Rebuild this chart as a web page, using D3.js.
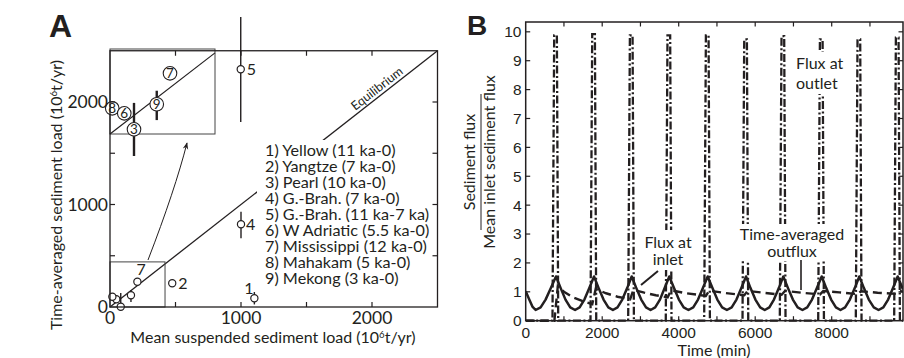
<!DOCTYPE html>
<html><head><meta charset="utf-8">
<script src="https://cdn.jsdelivr.net/npm/d3@7"></script>
<style>body{margin:0;background:#fff}svg{display:block}</style>
</head><body>
<svg id="c" width="904" height="358"></svg>
<script>
// ---------------- Panel A data ----------------
const riverIds   = ["1","2","3","4","5","6","7","8","9"];
const legendText = ["1) Yellow (11 ka-0)","2) Yangtze (7 ka-0)","3) Pearl (10 ka-0)","4) G.-Brah. (7 ka-0)",
                    "5) G.-Brah. (11 ka-7 ka)","6) W Adriatic (5.5 ka-0)","7) Mississippi (12 ka-0)",
                    "8) Mahakam (5 ka-0)","9) Mekong (3 ka-0)"];
const meanLoad = [1102, 475, 82, 1000, 998, 48, 209, 18, 160];
const avgLoad  = [85, 231, 3, 807, 2319, 75, 247, 100, 115];
const errLow   = [25, null, 3, 670, 1805, null, null, null, 50];
const errHigh  = [146, null, 137, 930, 2829, null, null, null, 166];
const labelledIds = ["1","2","4","5","7"];
// inset (zoom of the small box near the origin)
const insetIds   = ["7","9","8","6","3"];
const insetMean  = [240, 187, 9, 57, 96];
const insetAvg   = [314, 154, 133, 107, 24];
const insetErrLo = [null, 72, null, null, -114];
const insetErrHi = [null, 224, null, null, 161];
const insetExtentX = [0, 420];
const insetExtentY = [0, 440];
const axisDomainA = [0, 2500];
const tickValuesA = [0, 500, 1000, 1500, 2000, 2500];
const tickLabelsA = [0, 1000, 2000];

// ---------------- Panel B data ----------------
const inletFlux = [[0,1.02],[90,0.74],[175,0.49],[260,0.37],[390,0.46],[520,0.73],[655,1.12],[792,1.53],
 [917,1.12],[1040,0.73],[1165,0.46],[1290,0.37],[1410,0.46],[1535,0.73],[1660,1.12],[1786,1.53],
 [1910,1.12],[2035,0.73],[2160,0.46],[2280,0.37],[2400,0.46],[2525,0.73],[2650,1.12],[2771,1.53],
 [2895,1.12],[3020,0.73],[3145,0.46],[3265,0.37],[3385,0.46],[3510,0.73],[3630,1.12],[3754,1.53],
 [3880,1.12],[4005,0.73],[4130,0.46],[4255,0.37],[4380,0.46],[4505,0.73],[4630,1.12],[4758,1.53],
 [4885,1.12],[5010,0.73],[5135,0.46],[5260,0.37],[5385,0.46],[5510,0.73],[5635,1.12],[5760,1.53],
 [5880,1.12],[6005,0.73],[6130,0.46],[6250,0.37],[6370,0.46],[6490,0.73],[6615,1.12],[6735,1.53],
 [6860,1.12],[6985,0.73],[7110,0.46],[7235,0.37],[7360,0.46],[7485,0.73],[7610,1.12],[7739,1.53],
 [7860,1.12],[7985,0.73],[8110,0.46],[8230,0.37],[8350,0.46],[8475,0.73],[8600,1.12],[8722,1.53],
 [8845,1.12],[8970,0.73],[9100,0.46],[9225,0.37],[9350,0.46],[9475,0.73],[9600,1.12],[9725,1.53],[9864,1.08]];
const outletFlux = [[0,0],[700,0],[745,9.88],[815,9.88],[850,0],
 [1694,0],[1739,9.92],[1809,9.92],[1844,0],
 [2679,0],[2724,9.88],[2794,9.88],[2829,0],
 [3662,0],[3707,9.88],[3777,9.88],[3812,0],
 [4666,0],[4711,9.88],[4781,9.88],[4816,0],
 [5668,0],[5713,9.74],[5783,9.74],[5818,0],
 [6643,0],[6688,9.85],[6758,9.85],[6793,0],
 [7647,0],[7692,9.74],[7762,9.74],[7797,0],
 [8630,0],[8675,9.74],[8745,9.74],[8780,0],
 [9633,0],[9678,9.8],[9748,9.8],[9783,0],[9864,0]];
const avgOutflux = [[0,0],[750,0],[840,1.2],[1000,1.0],[1250,0.8],[1500,0.67],[1740,0.57],
 [1830,1.1],[2100,0.95],[2400,0.83],[2730,0.74],
 [2815,1.07],[3100,0.97],[3400,0.88],[3710,0.81],
 [3800,1.05],[4200,0.95],[4710,0.86],
 [4800,1.04],[5200,0.96],[5715,0.88],
 [5800,1.03],[6200,0.97],[6690,0.9],
 [6780,1.03],[7200,0.97],[7695,0.91],
 [7780,1.03],[8200,0.98],[8680,0.92],
 [8765,1.02],[9200,0.97],[9680,0.93],
 [9770,1.02],[9864,1.01]];
const xDomainB = [0, 9864];
const yDomainB = [0, 10.34];
const xTickLabelsB = [0, 2000, 4000, 6000, 8000];
const xTicksB = [1000,2000,3000,4000,5000,6000,7000,8000,9000];
const yTicksB = [0,1,2,3,4,5,6,7,8,9,10];

// ---------------- drawing ----------------
const svg = d3.select("#c");
const INK = "#231f20";
const fontA = "Lato, 'Open Sans', sans-serif";
const fontNum = "'Liberation Sans', Arial, sans-serif";

// ===== Panel A =====
const xA = d3.scaleLinear().domain(axisDomainA).range([110, 437.5]);
const yA = d3.scaleLinear().domain(axisDomainA).range([307, 50.75]);
const gA = svg.append("g");

gA.append("text").attr("x", 49).attr("y", 37).text("A")
  .attr("font-family", "'Liberation Sans', Arial, sans-serif").attr("font-weight", "bold")
  .attr("font-size", 32).attr("fill", INK);

// equilibrium line
gA.append("line").attr("x1", xA(0)).attr("y1", yA(0)).attr("x2", xA(2500)).attr("y2", yA(2500))
  .attr("stroke", INK).attr("stroke-width", 1.3);
const eqAng = Math.atan2(yA(0) - yA(2500), xA(2500) - xA(0)) * 180 / Math.PI;
gA.append("text").attr("transform", `translate(${xA(2020)+5},${yA(2020)-8}) rotate(${-eqAng})`)
  .attr("text-anchor", "middle").attr("font-family", fontA).attr("font-size", 12.5).attr("fill", INK)
  .text("Equilibrium");

// legend with white background
gA.append("rect").attr("x", 257).attr("y", 140).attr("width", 174).attr("height", 148).attr("fill", "#fff");
gA.append("g").selectAll("text").data(legendText).join("text")
  .attr("x", 265).attr("y", (d, i) => 150 + i * 16.1).attr("dy", "0.35em")
  .attr("font-family", fontA).attr("font-size", 16.2).attr("fill", INK).text(d => d);

// small box near origin
gA.append("rect").attr("x", xA(insetExtentX[0])).attr("y", yA(insetExtentY[1]))
  .attr("width", xA(insetExtentX[1]) - xA(insetExtentX[0])).attr("height", yA(insetExtentY[0]) - yA(insetExtentY[1]))
  .attr("fill", "none").attr("stroke", "#444").attr("stroke-width", 1);

// error bars main
const rows = riverIds.map((id, i) => ({id, x: meanLoad[i], y: avgLoad[i], lo: errLow[i], hi: errHigh[i]}));
gA.append("g").selectAll("line").data(rows.filter(d => d.lo !== null)).join("line")
  .attr("x1", d => xA(d.x)).attr("x2", d => xA(d.x)).attr("y1", d => yA(d.lo)).attr("y2", d => yA(d.hi))
  .attr("stroke", INK).attr("stroke-width", 1.4);
gA.append("g").selectAll("circle").data(rows).join("circle")
  .attr("cx", d => xA(d.x)).attr("cy", d => yA(d.y)).attr("r", 3.6)
  .attr("fill", "#fff").attr("stroke", INK).attr("stroke-width", 1.2);
const labOff = {"1": [-10, -10], "2": [6, 0], "4": [5, 0], "5": [6, 0], "7": [-1, -12]};
gA.append("g").selectAll("text").data(rows.filter(d => labelledIds.includes(d.id))).join("text")
  .attr("x", d => xA(d.x) + labOff[d.id][0]).attr("y", d => yA(d.y) + labOff[d.id][1]).attr("dy", "0.35em")
  .attr("font-family", fontA).attr("font-size", 16).attr("fill", INK).text(d => d.id);

// arrow from small box to inset
svg.append("defs").append("marker").attr("id", "ah").attr("viewBox", "0 0 10 10").attr("refX", 9).attr("refY", 5)
  .attr("markerWidth", 7).attr("markerHeight", 7).attr("orient", "auto")
  .append("path").attr("d", "M0,1 L10,5 L0,9 L3,5 Z").attr("fill", INK);
gA.append("path").attr("d", "M148,260 Q175,190 187,143").attr("fill", "none")
  .attr("stroke", INK).attr("stroke-width", 1).attr("marker-end", "url(#ah)");

// inset
const xI = d3.scaleLinear().domain(insetExtentX).range([110, 215]);
const yI = d3.scaleLinear().domain(insetExtentY).range([134, 49]);
const gI = gA.append("g");
gI.append("rect").attr("x", 110).attr("y", 49).attr("width", 105).attr("height", 85)
  .attr("fill", "#fff").attr("stroke", "#444").attr("stroke-width", 1);
gI.append("line").attr("x1", xI(0)).attr("y1", yI(0)).attr("x2", xI(420)).attr("y2", yI(420))
  .attr("stroke", INK).attr("stroke-width", 1.2);
const irows = insetIds.map((id, i) => ({id, x: insetMean[i], y: insetAvg[i], lo: insetErrLo[i], hi: insetErrHi[i]}));
gI.append("g").selectAll("line").data(irows.filter(d => d.lo !== null)).join("line")
  .attr("x1", d => xI(d.x)).attr("x2", d => xI(d.x)).attr("y1", d => yI(d.lo)).attr("y2", d => yI(d.hi))
  .attr("stroke", INK).attr("stroke-width", 2.4);
gI.append("g").selectAll("circle").data(irows).join("circle")
  .attr("cx", d => xI(d.x)).attr("cy", d => yI(d.y)).attr("r", 6.8)
  .attr("fill", "#fff").attr("stroke", INK).attr("stroke-width", 1.1);
gI.append("g").selectAll("text").data(irows).join("text")
  .attr("x", d => xI(d.x)).attr("y", d => yI(d.y)).attr("dy", "0.36em").attr("text-anchor", "middle")
  .attr("font-family", fontA).attr("font-size", 13.5).attr("fill", INK).text(d => d.id);

// frame + ticks
gA.append("rect").attr("x", 110).attr("y", yA(2500)).attr("width", xA(2500) - 110).attr("height", 307 - yA(2500))
  .attr("fill", "none").attr("stroke", INK).attr("stroke-width", 1.3);
const tk = 5;
tickValuesA.slice(1, -1).forEach(v => {
  gA.append("line").attr("x1", xA(v)).attr("x2", xA(v)).attr("y1", 307).attr("y2", 307 - tk).attr("stroke", INK).attr("stroke-width", 1.2);
  gA.append("line").attr("x1", xA(v)).attr("x2", xA(v)).attr("y1", yA(2500)).attr("y2", yA(2500) + tk).attr("stroke", INK).attr("stroke-width", 1.2);
  gA.append("line").attr("y1", yA(v)).attr("y2", yA(v)).attr("x1", 110).attr("x2", 110 + tk).attr("stroke", INK).attr("stroke-width", 1.2);
  gA.append("line").attr("y1", yA(v)).attr("y2", yA(v)).attr("x1", xA(2500)).attr("x2", xA(2500) - tk).attr("stroke", INK).attr("stroke-width", 1.2);
});
gA.append("g").selectAll("text").data(tickLabelsA).join("text")
  .attr("x", d => xA(d)).attr("y", 318).attr("dy", "0.35em").attr("text-anchor", "middle")
  .attr("font-family", fontA).attr("font-size", 17.5).attr("fill", INK).text(d => d);
gA.append("g").selectAll("text").data(tickLabelsA).join("text")
  .attr("x", 108).attr("y", d => yA(d)).attr("dy", "0.35em").attr("text-anchor", "end")
  .attr("font-family", fontA).attr("font-size", 17.5).attr("fill", INK).text(d => d);

// axis titles
function unitsText(sel, main) {
  sel.append("tspan").text(main + " (10");
  sel.append("tspan").attr("font-size", "0.6em").attr("dy", "-0.55em").text("6");
  sel.append("tspan").attr("dy", "0.33em").text("t/yr)");
}
const xt = gA.append("text").attr("x", 273).attr("y", 343).attr("text-anchor", "middle")
  .attr("font-family", fontA).attr("font-size", 16).attr("fill", INK);
unitsText(xt, "Mean suspended sediment load");
const yt = gA.append("text").attr("transform", "translate(62,195) rotate(-90)").attr("text-anchor", "middle")
  .attr("font-family", fontA).attr("font-size", 16).attr("fill", INK);
unitsText(yt, "Time-averaged sediment load");

// ===== Panel B =====
const xB = d3.scaleLinear().domain(xDomainB).range([525.7, 903]);
const yB = d3.scaleLinear().domain(yDomainB).range([320.7, 22]);
const gB = svg.append("g");
gB.append("text").attr("x", 467).attr("y", 35).text("B")
  .attr("font-family", "'Liberation Sans', Arial, sans-serif").attr("font-weight", "bold")
  .attr("font-size", 28).attr("fill", INK);

svg.select("defs").append("clipPath").attr("id", "clipB").append("rect")
  .attr("x", 525.7).attr("y", 22).attr("width", 903 - 525.7).attr("height", 320.7 - 22 + 2);
const plot = gB.append("g").attr("clip-path", "url(#clipB)");
const lineB = d3.line().x(d => xB(d[0])).y(d => yB(d[1]));
plot.append("path").attr("d", lineB(outletFlux)).attr("fill", "none").attr("stroke", INK)
  .attr("stroke-width", 2.3).attr("stroke-dasharray", "8,2.5,2,2.5");
plot.append("path").attr("d", lineB(avgOutflux)).attr("fill", "none").attr("stroke", INK)
  .attr("stroke-width", 2.4).attr("stroke-dasharray", "9,5");
plot.append("path").attr("d", lineB(inletFlux)).attr("fill", "none").attr("stroke", INK)
  .attr("stroke-width", 2.5).attr("stroke-linejoin", "round");

// annotation boxes
const fontB = fontA;
function note(lines, cx, ys, anchor, box) {
  gB.append("rect").attr("x", box[0]).attr("y", box[1]).attr("width", box[2]).attr("height", box[3]).attr("fill", "#fff");
  lines.forEach((t, i) => gB.append("text").attr("x", cx).attr("y", ys[i]).attr("dy", "0.35em")
    .attr("text-anchor", anchor).attr("font-family", fontB).attr("font-size", 16).attr("fill", INK).text(t));
}
note(["Flux at", "outlet"], 796, [63, 83], "start", [793, 52, 56, 42]);
note(["Flux at", "inlet"], 668, [242, 259.5], "middle", [646, 230, 44, 40]);
note(["Time-averaged", "outflux"], 792, [234.5, 251.5], "middle", [735, 224, 113, 37]);
gB.append("line").attr("x1", 658).attr("y1", 271).attr("x2", 641).attr("y2", 285).attr("stroke", INK).attr("stroke-width", 2);
gB.append("line").attr("x1", 801).attr("y1", 260).attr("x2", 801).attr("y2", 290).attr("stroke", INK).attr("stroke-width", 1.6);

// frame B
gB.append("rect").attr("x", 525.7).attr("y", 22).attr("width", 903 - 525.7).attr("height", 320.7 - 22)
  .attr("fill", "none").attr("stroke", INK).attr("stroke-width", 1.5);
xTicksB.forEach(v => {
  gB.append("line").attr("x1", xB(v)).attr("x2", xB(v)).attr("y1", 22).attr("y2", 26.5).attr("stroke", INK).attr("stroke-width", 1.2);
  gB.append("line").attr("x1", xB(v)).attr("x2", xB(v)).attr("y1", 320.7).attr("y2", 316.2).attr("stroke", INK).attr("stroke-width", 1.2);
});
yTicksB.slice(1).forEach(v => {
  gB.append("line").attr("y1", yB(v)).attr("y2", yB(v)).attr("x1", 903).attr("x2", 898.5).attr("stroke", INK).attr("stroke-width", 1.2);
  gB.append("line").attr("y1", yB(v)).attr("y2", yB(v)).attr("x1", 525.7).attr("x2", 530.2).attr("stroke", INK).attr("stroke-width", 1.2);
});
gB.append("g").selectAll("text").data(xTickLabelsB).join("text")
  .attr("x", d => xB(d)).attr("y", 333).attr("dy", "0.35em").attr("text-anchor", "middle")
  .attr("font-family", fontNum).attr("font-size", 15.5).attr("fill", INK).text(d => d);
gB.append("g").selectAll("text").data(yTicksB).join("text")
  .attr("x", 521.5).attr("y", d => yB(d)).attr("dy", "0.35em").attr("text-anchor", "end")
  .attr("font-family", fontNum).attr("font-size", 15.5).attr("fill", INK).text(d => d);
gB.append("text").attr("x", 714).attr("y", 350).attr("dy", "0.35em").attr("text-anchor", "middle")
  .attr("font-family", fontB).attr("font-size", 16).attr("fill", INK).text("Time (min)");
// y label as fraction
const yl = gB.append("g").attr("transform", "translate(481,162) rotate(-90)");
yl.append("text").attr("x", 0).attr("y", -6).attr("text-anchor", "middle")
  .attr("font-family", fontB).attr("font-size", 16).attr("fill", INK).text("Sediment flux");
yl.append("line").attr("x1", -68).attr("x2", 68).attr("y1", 0).attr("y2", 0).attr("stroke", INK).attr("stroke-width", 1);
yl.append("text").attr("x", 0).attr("y", 14).attr("text-anchor", "middle")
  .attr("font-family", fontB).attr("font-size", 16).attr("fill", INK).text("Mean inlet sediment flux");
</script>
</body></html>
